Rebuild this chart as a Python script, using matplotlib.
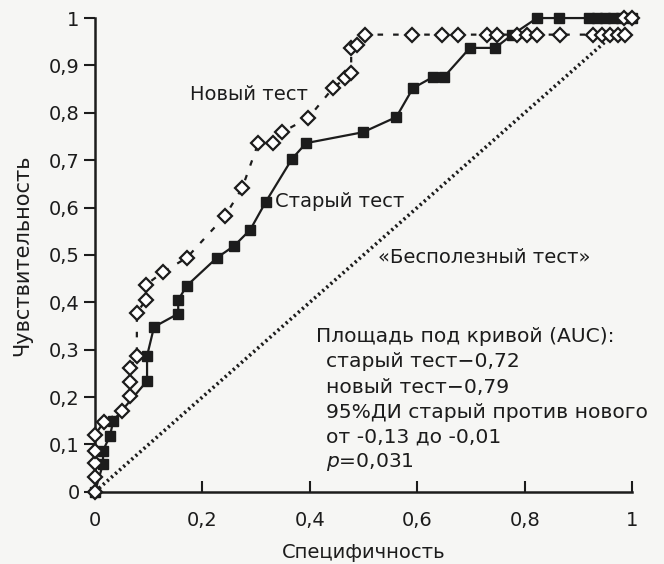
import matplotlib
matplotlib.use("Agg")
from matplotlib import pyplot as plt

# ROC-кривые: старый тест (квадраты) и новый тест (ромбы)
old_x = [0, 0.015, 0.015, 0.028, 0.034, 0.097, 0.097, 0.110, 0.155, 0.155, 0.171, 0.227,
         0.259, 0.289, 0.318, 0.367, 0.393, 0.499, 0.561, 0.592, 0.630, 0.650, 0.698, 0.745,
         0.777, 0.823, 0.864, 0.920, 0.935, 0.950, 0.965, 0.980, 1.0]
old_y = [0, 0.059, 0.087, 0.118, 0.150, 0.234, 0.287, 0.348, 0.376, 0.405, 0.435, 0.494,
         0.519, 0.553, 0.612, 0.703, 0.736, 0.759, 0.791, 0.852, 0.876, 0.876, 0.937, 0.937,
         0.965, 1.0, 1.0, 1.0, 1.0, 1.0, 1.0, 1.0, 1.0]

new_x = [0, 0, 0, 0, 0, 0.017, 0.050, 0.065, 0.065, 0.065, 0.078, 0.078, 0.095, 0.095,
         0.127, 0.171, 0.242, 0.274, 0.304, 0.331, 0.348, 0.397, 0.443, 0.466, 0.477, 0.477,
         0.488, 0.503, 0.590, 0.646, 0.676, 0.730, 0.749, 0.786, 0.804, 0.823, 0.866, 0.927,
         0.944, 0.959, 0.974, 0.987, 0.985, 1.0]
new_y = [0, 0.032, 0.061, 0.087, 0.120, 0.148, 0.171, 0.203, 0.232, 0.262, 0.287, 0.378,
         0.405, 0.437, 0.464, 0.494, 0.582, 0.641, 0.736, 0.736, 0.759, 0.789, 0.852, 0.873,
         0.884, 0.937, 0.943, 0.965, 0.965, 0.965, 0.965, 0.965, 0.965, 0.965, 0.965, 0.965,
         0.965, 0.965, 0.965, 0.965, 0.965, 0.965, 1.0, 1.0]

useless_x = [0, 0.96]
useless_y = [0, 0.96]

x_ticks = [0, 0.2, 0.4, 0.6, 0.8, 1]
x_labels = ["0", "0,2", "0,4", "0,6", "0,8", "1"]
y_ticks = [0, 0.1, 0.2, 0.3, 0.4, 0.5, 0.6, 0.7, 0.8, 0.9, 1]
y_labels = ["0", "0,1", "0,2", "0,3", "0,4", "0,5", "0,6", "0,7", "0,8", "0,9", "1"]

auc_lines = ["старый тест\u22120,72", "новый тест\u22120,79",
             "95%ДИ старый против нового", "от -0,13 до -0,01"]

ink = "#1c1c1c"
bg = "#f6f6f4"
fs = 14
plt.rcParams["font.family"] = ["DejaVu Sans"]

fig = plt.figure(figsize=(6.64, 5.64), dpi=100, facecolor=bg)
ax = fig.add_axes([0.143, 0.128, 0.809, 0.840], facecolor=bg)

ax.plot(useless_x, useless_y, linestyle=(0, (0.6, 0.9)), color=ink, linewidth=2.6, zorder=1)
ax.plot(old_x, old_y, color=ink, linewidth=1.6, marker="s", markersize=7,
        markerfacecolor=ink, markeredgecolor=ink, clip_on=False, zorder=2)
ax.plot(new_x, new_y, color=ink, linewidth=1.6, linestyle=(0, (2.5, 4.5)), marker="D",
        markersize=7, markerfacecolor="white", markeredgecolor=ink, markeredgewidth=1.6,
        clip_on=False, zorder=3)

ax.set_xlim(0, 1)
ax.set_ylim(0, 1)
ax.spines["top"].set_visible(False)
ax.spines["right"].set_visible(False)
for s in ("left", "bottom"):
    ax.spines[s].set_color(ink)
    ax.spines[s].set_linewidth(1.8)

ax.set_xticks(x_ticks)
ax.set_xticklabels(x_labels)
ax.set_yticks(y_ticks)
ax.set_yticklabels(y_labels)
ax.tick_params(axis="x", direction="in", length=8, width=1.5, colors=ink, labelsize=fs, pad=14)
ax.tick_params(axis="y", direction="out", length=8, width=1.5, colors=ink, labelsize=fs, pad=3)

ax.set_xlabel("Специфичность", fontsize=fs, color=ink, labelpad=9)
ax.set_ylabel("Чувствительность", fontsize=15, color=ink, labelpad=12)

ax.text(0.287, 0.838, "Новый тест", fontsize=fs, color=ink, ha="center", va="center")
ax.text(0.336, 0.612, "Старый тест", fontsize=fs, color=ink, ha="left", va="center")
ax.text(0.527, 0.494, "«Бесполезный тест»", fontsize=fs, color=ink, ha="left", va="center")

afs = 14.6
ax.text(0.412, 0.327, "Площадь под кривой (AUC):", fontsize=afs, color=ink, va="center")
for i, line in enumerate(auc_lines):
    ax.text(0.430, 0.327 - 0.053 * (i + 1), line, fontsize=afs, color=ink, va="center")
ax.text(0.430, 0.327 - 0.053 * 5, "$\\it{p}$=0,031", fontsize=afs, color=ink, va="center")

fig.savefig("out.png", dpi=100, facecolor=bg)
